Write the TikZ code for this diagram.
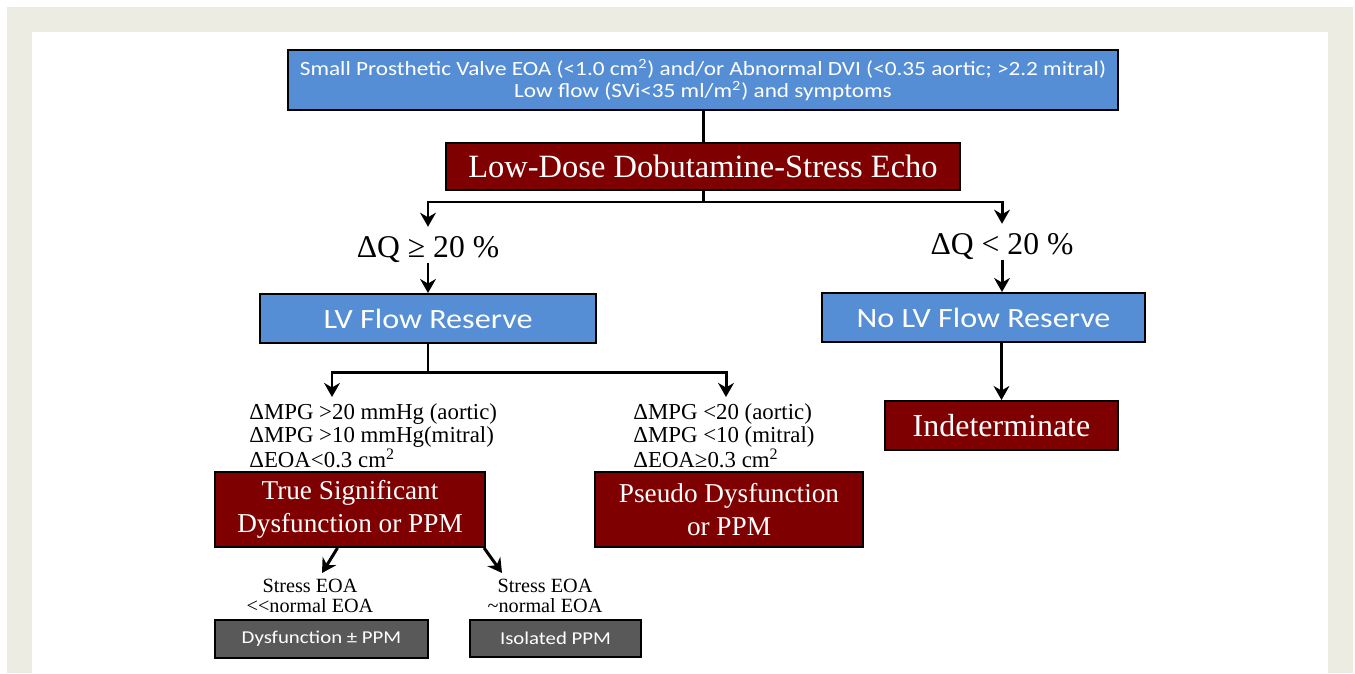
\documentclass[tikz,border=0pt]{standalone}
\usepackage{fontspec}
\setmainfont{Liberation Serif}
\newfontfamily\calibri{Carlito}[FakeStretch=1.15]
\usetikzlibrary{arrows.meta}
\definecolor{boxblue}{RGB}{85,142,213}
\definecolor{boxred}{RGB}{127,0,0}
\definecolor{boxgray}{RGB}{89,89,89}
\definecolor{framebeige}{RGB}{236,236,226}

\begin{document}
\begin{tikzpicture}[x=0.02cm, y=-0.02cm, >={Stealth[length=8pt,width=9pt]},
  bluebox/.style={draw=black, line width=1.1pt, fill=boxblue, text=white, align=center, inner sep=0pt, font=\calibri\fontsize{15.9}{18}\selectfont},
  redbox/.style={draw=black, line width=1.1pt, fill=boxred, text=white, align=center, inner sep=0pt, font=\fontsize{15.5}{19}\selectfont},
  graybox/.style={draw=black, line width=1.1pt, fill=boxgray, text=white, inner sep=0pt, font=\calibri\fontsize{10.3}{14}\selectfont},
  cond/.style={inner sep=0pt, text height=17pt, text depth=3pt, anchor=base, font=\fontsize{18}{20}\selectfont},
  crit/.style={inner sep=0pt, align=left, anchor=north west, font=\fontsize{13}{12.8}\selectfont},
  stress/.style={inner sep=0pt, align=center, font=\fontsize{11.5}{11}\selectfont},
  conn/.style={line width=1.7pt}]
  % frame and page
  \useasboundingbox (0,0) rectangle (1355,673);
  \fill[framebeige] (7,7) rectangle (1353,673);
  \fill[white] (32,32) rectangle (1328,673);

  % top of the tree
  \node[bluebox, minimum width=16.6cm, minimum height=1.2cm, font=\calibri\fontsize{11.5}{12.5}\selectfont] (top) at (703,80)
    {Small Prosthetic Valve EOA (<1.0 cm\textsuperscript{2}) and/or Abnormal DVI (<0.35 aortic; >2.2 mitral)\\
     Low flow (SVi<35 ml/m\textsuperscript{2}) and symptoms};
  \node[redbox, minimum width=10.28cm, minimum height=0.94cm, font=\fontsize{18.5}{20}\selectfont] (dobut) at (703,166.5)
    {Low-Dose Dobutamine-Stress Echo};
  \coordinate (split1) at (703,202);

  % flow reserve branches
  \node[cond] (dq1) at (428,257) {ΔQ ≥ 20 \%};
  \node[cond] (dq2) at (1002,254) {ΔQ < 20 \%};
  \node[bluebox, minimum width=6.72cm, minimum height=0.98cm] (lvfr) at (428,318.5) {LV Flow Reserve};
  \node[bluebox, minimum width=6.46cm, minimum height=0.98cm] (nolvfr) at (983.5,317.5) {No LV Flow Reserve};
  \node[redbox, minimum width=4.66cm, minimum height=0.98cm, font=\fontsize{18.2}{20}\selectfont] (indet) at (1001.5,425.5) {Indeterminate};
  \coordinate (split2) at (428,372);
  \coordinate (c1) at (332,397);
  \coordinate (c2) at (726,397);

  % gradient criteria
  \node[crit] (crit1) at (249,403.5)
    {ΔMPG >20 mmHg (aortic)\\ΔMPG >10 mmHg(mitral)\\ΔEOA<0.3 cm\textsuperscript{2}};
  \node[crit] (crit2) at (633,403.5)
    {ΔMPG <20 (aortic)\\ΔMPG <10 (mitral)\\ΔEOA≥0.3 cm\textsuperscript{2}};
  \node[redbox, minimum width=5.4cm, minimum height=1.5cm] (truesig) at (350,509.5)
    {True Significant\\Dysfunction or PPM};
  \node[redbox, minimum width=5.36cm, minimum height=1.5cm] (pseudo) at (729,509.5)
    {Pseudo Dysfunction\\or PPM};

  % stress EOA outcome
  \coordinate (s1) at (322,573);
  \coordinate (s2) at (502,573);
  \node[stress] (stressA) at (310,596) {Stress EOA\\<\kern0pt<normal EOA};
  \node[stress] (stressB) at (545,596) {Stress EOA\\\textasciitilde normal EOA};
  \node[graybox, minimum width=4.26cm, minimum height=0.76cm] (dysf) at (321.5,639) {Dysfunction ± PPM};
  \node[graybox, minimum width=3.42cm, minimum height=0.74cm] (isol) at (555.5,638.5) {Isolated PPM};

  % connectors
  \draw[conn] (top.south) -- (dobut.north);
  \draw[conn] (dobut.south) -- (split1);
  \draw[conn,->] (split1) -| (dq1.north);
  \draw[conn,->] (split1) -| (dq2.north);
  \draw[conn,->] (dq1.south) -- (lvfr.north);
  \draw[conn,->] (dq2.south) -- (dq2.south |- nolvfr.north);
  \draw[conn,->] (nolvfr.south -| indet.north) -- (indet.north);
  \draw[conn] (lvfr.south) -- (split2);
  \foreach \e in {c1,c2}
    \draw[conn,->] (split2) -| (\e);
  \foreach \a/\e in {-108/s1,-16/s2}
    \draw[conn,->] (truesig.\a) -- (\e);
\end{tikzpicture}
\end{document}
